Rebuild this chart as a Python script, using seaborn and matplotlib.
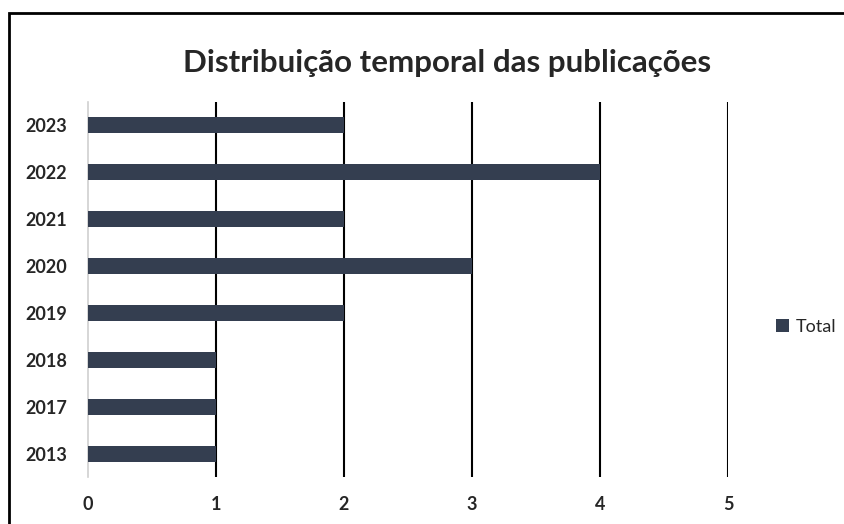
import matplotlib
matplotlib.use("Agg")
import matplotlib.pyplot as plt
import seaborn as sns
import pandas as pd
from matplotlib.patches import Rectangle

anos = ["2023", "2022", "2021", "2020", "2019", "2018", "2017", "2013"]
publicacoes = [2, 4, 2, 3, 2, 1, 1, 1]
xticks = [0, 1, 2, 3, 4, 5]

df = pd.DataFrame({"Ano": anos, "Total": publicacoes})

sns.set_style("white")
plt.rcParams["font.family"] = ["Lato", "DejaVu Sans"]

fig = plt.figure(figsize=(8.45, 5.24), dpi=100)
ax = fig.add_axes([0.1041, 0.0897, 0.7574, 0.7156])

cor = "#343E50"
sns.barplot(data=df, x="Total", y="Ano", orient="h", color=cor, width=0.34,
            saturation=1, ax=ax, label="Total", zorder=3, linewidth=0)

ax.set_xlim(0, 5)
ax.set_ylim(7.5, -0.5)
ax.set_xticks(xticks)
ax.set_xticklabels([str(t) for t in xticks], fontsize=13, fontweight="bold")
ax.set_yticklabels(anos, fontsize=13, fontweight="bold")
ax.tick_params(axis="x", length=0, pad=14)
ax.tick_params(axis="y", length=0, pad=15)
ax.set_xlabel("")
ax.set_ylabel("")

for x in xticks[1:]:
    ax.axvline(x, color="black", lw=1.5, zorder=2)

for s in ["top", "right", "bottom"]:
    ax.spines[s].set_visible(False)
ax.spines["left"].set_color("#d0d0d0")
ax.spines["left"].set_linewidth(1.2)

ax.legend(loc="center left", bbox_to_anchor=(1.05, 0.4), frameon=False,
          fontsize=13, handlelength=0.7, handleheight=0.7, handletextpad=0.4)

fig.text(0.529, 0.88, "Distribuição temporal das publicações", ha="center",
         va="center", fontsize=22.5, fontweight="bold")

fig.patches.append(Rectangle((0.0107, -0.1), 1.2, 1.075, transform=fig.transFigure,
                             fill=False, edgecolor="black", lw=2))

fig.savefig("out.png", dpi=100)
